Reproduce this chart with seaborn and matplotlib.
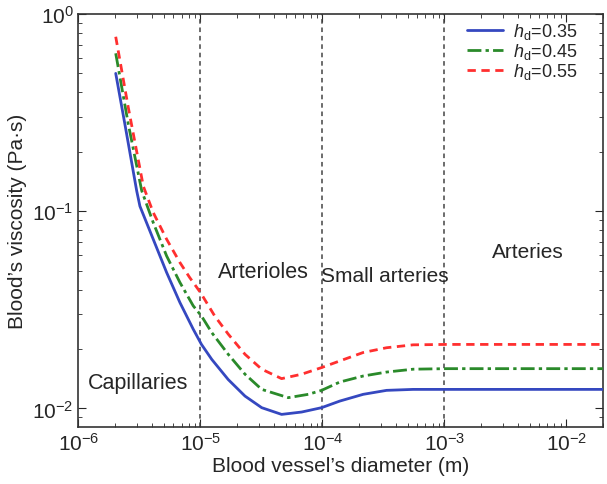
import numpy as np
import pandas as pd
import matplotlib
matplotlib.use("Agg")
import matplotlib.pyplot as plt
import seaborn as sns

# diameters (m) and viscosity (Pa.s)
d_035 = [2.02e-6, 2.40e-6, 3.0e-6, 3.19e-6, 4.10e-6, 5.28e-6, 6.79e-6, 8.73e-6, 1.02e-5,
         1.24e-5, 1.69e-5, 2.32e-5, 3.18e-5, 4.63e-5, 6.76e-5, 9.85e-5, 1.39e-4,
         2.16e-4, 3.36e-4, 5.55e-4, 1.04e-3, 2.0e-2]
mu_035 = [0.50, 0.277, 0.127, 0.106, 0.0721, 0.0489, 0.0344, 0.0252, 0.0211,
          0.0177, 0.0140, 0.01154, 0.01008, 0.00932, 0.00958, 0.01008, 0.01089,
          0.01178, 0.01234, 0.01248, 0.01248, 0.01248]

d_045 = [2.02e-6, 2.56e-6, 3.30e-6, 4.10e-6, 5.28e-6, 6.79e-6, 8.73e-6, 1.02e-5,
         1.24e-5, 1.69e-5, 2.32e-5, 3.18e-5, 5.25e-5, 7.66e-5, 9.85e-5, 1.39e-4,
         2.16e-4, 3.36e-4, 5.55e-4, 1.04e-3, 2.0e-2]
mu_045 = [0.632, 0.277, 0.127, 0.0876, 0.0593, 0.0435, 0.0331, 0.0294,
          0.0242, 0.0188, 0.0149, 0.01248, 0.01133, 0.01178, 0.01234, 0.0136,
          0.01459, 0.01528, 0.0158, 0.0159, 0.0159]

d_055 = [2.02e-6, 2.56e-6, 3.40e-6, 4.10e-6, 5.28e-6, 6.79e-6, 8.16e-6, 1.0e-5,
         1.31e-5, 1.69e-5, 2.32e-5, 3.18e-5, 4.63e-5, 6.76e-5, 9.85e-5, 1.39e-4,
         2.16e-4, 3.36e-4, 5.55e-4, 1.04e-3, 2.0e-2]
mu_055 = [0.767, 0.336, 0.134, 0.0985, 0.0721, 0.0549, 0.0461, 0.0387,
          0.0294, 0.0238, 0.0188, 0.0158, 0.01415, 0.0149, 0.0161, 0.0174,
          0.0192, 0.0203, 0.0210, 0.0211, 0.0211]

labels = [r"$h_{\mathrm{d}}$=0.35", r"$h_{\mathrm{d}}$=0.45", r"$h_{\mathrm{d}}$=0.55"]
boundaries = [1e-5, 1e-4, 1e-3]
regions = ["Capillaries", "Arterioles", "Small arteries", "Arteries"]

sns.set_style("ticks")
plt.rcParams['font.family'] = ['Liberation Sans', 'DejaVu Sans']
plt.rcParams['mathtext.fontset'] = 'custom'
plt.rcParams['mathtext.rm'] = 'Liberation Sans'
plt.rcParams['mathtext.it'] = 'Liberation Sans:italic'

fig, ax = plt.subplots(1, 1, figsize=(6.07, 4.85), dpi=100)
fig.subplots_adjust(left=0.1293, right=0.9934, bottom=0.1181, top=0.969)

for xb in boundaries:
	ax.axvline(xb, color="#444444", linestyle=(0, (3, 2.5)), linewidth=1.1, zorder=1)

series = [
	(d_035, mu_035, labels[0], "#3548c0", "-"),
	(d_045, mu_045, labels[1], "#2a8a2a", (0, (5, 1.5, 1.2, 1.5))),
	(d_055, mu_055, labels[2], "#ff2f2f", (0, (3, 2))),
]
for d, mu, lab, col, ls in series:
	df = pd.DataFrame({"d": d, "mu": mu})
	sns.lineplot(x="d", y="mu", data=df, ax=ax, color=col, linestyle=ls,
		linewidth=2, label=lab, estimator=None, zorder=3)

ax.set_xscale("log")
ax.set_yscale("log")
ax.set_xlim(1e-6, 2e-2)
ax.set_ylim(0.00807, 1)

ax.text(1.20e-6, 0.01355, regions[0], fontsize=15.5, va="center")
ax.text(1.39e-5, 0.0496, regions[1], fontsize=15.5, va="center")
ax.text(9.73e-5, 0.0473, regions[2], fontsize=15, va="center")
ax.text(2.45e-3, 0.0626, regions[3], fontsize=15, va="center")

ax.set_xlabel("Blood vessel\u2019s diameter (m)", fontsize=15, labelpad=2)
ax.set_ylabel("Blood\u2019s viscosity (Pa\u00b7s)", fontsize=15, labelpad=4)
ax.tick_params(which="both", direction="in", top=True, right=True, labelsize=15)
ax.tick_params(which="major", length=6)
ax.tick_params(which="minor", length=3)
for s in ax.spines.values():
	s.set_color("#333333")
	s.set_linewidth(1.2)

leg = ax.legend(loc="upper right", bbox_to_anchor=(0.964, 1.0), frameon=False,
	fontsize=13, handlelength=1.95, labelspacing=0.0, borderaxespad=0.0,
	handletextpad=0.55)

fig.savefig("out.png", dpi=100)
